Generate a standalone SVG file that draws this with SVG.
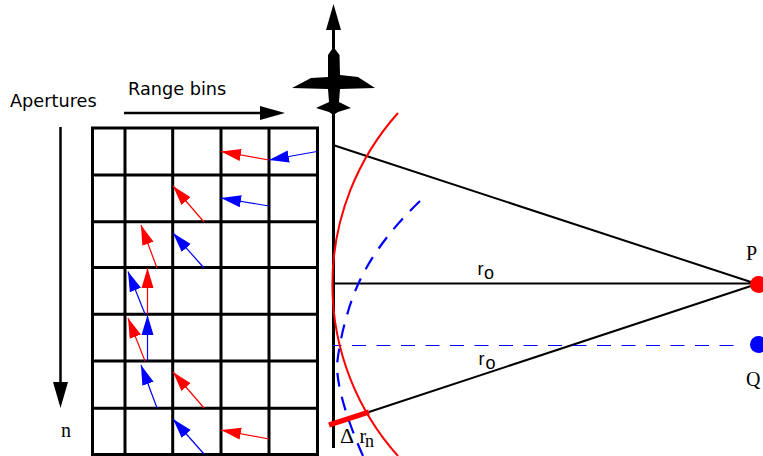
<svg xmlns="http://www.w3.org/2000/svg" width="763" height="456" viewBox="0 0 763 456">
<defs>
<marker id="rh" markerUnits="userSpaceOnUse" markerWidth="21" markerHeight="13" refX="20" refY="6.500" orient="auto"><path d="M0 0.500L20 6.500L0 12.500Z" fill="#f00"/></marker>
<marker id="bh" markerUnits="userSpaceOnUse" markerWidth="21" markerHeight="13" refX="20" refY="6.500" orient="auto"><path d="M0 0.500L20 6.500L0 12.500Z" fill="#00f"/></marker>
</defs>
<style>
.g{stroke:#000;stroke-width:3;fill:none}
.r{stroke:#f00;stroke-width:1.2;fill:none;marker-end:url(#rh)}
.b{stroke:#00f;stroke-width:1.2;fill:none;marker-end:url(#bh)}
.l{stroke:#000;stroke-width:2;fill:none}
.s{font-family:"DejaVu Sans",sans-serif;font-size:17.700px;fill:#000}
.t{font-family:"Liberation Serif",serif;font-size:20px;fill:#000}
.u{font-family:"Liberation Sans",sans-serif;font-size:18px;fill:#000}
</style>
<rect width="763" height="456" fill="#fff"/>
<g id="grid">
<path class="g" d="M92.500 128V454.500M125 128V454.500M172.700 128V454.500M221 128V454.500M269 128V454.500M317.500 128V454.500M91 128H319M91 175H319M91 221.700H319M91 267.500H319M91 314.300H319M91 361H319M91 408.300H319M91 454.500H319"/>
</g>
<g id="connectors">
<path class="r" d="M269 160L221 151.500"/>
<path class="b" d="M317 151.500L269 160"/>
<path class="r" d="M204 222L173 186"/>
<path class="b" d="M269 206L221 198"/>
<path class="r" d="M157 268L141 225"/>
<path class="b" d="M204 268L173 233"/>
<path class="r" d="M147.500 314L147.500 268"/>
<path class="b" d="M145 314L128 271.500"/>
<path class="r" d="M145 361L128 318"/>
<path class="b" d="M147.500 361L147.500 315"/>
<path class="b" d="M157 408L141 365"/>
<path class="r" d="M204 408L173 372"/>
<path class="b" d="M204 454L173 419"/>
<path class="r" d="M269 439L221 430"/>
<path d="M124 113H262" stroke="#000" stroke-width="2.500" fill="none"/>
<path d="M260 106L285 113L260 120Z" fill="#000"/>
<path d="M60.500 127V385" stroke="#000" stroke-width="2.500" fill="none"/>
<path d="M53 382L60.500 408L68 382Z" fill="#000"/>
<path d="M333.500 25V448" stroke="#000" stroke-width="3" fill="none"/>
<path class="l" d="M333 145L757 284M333 283.500H757M369 412L757 284"/>
<path d="M333 345.500H736" stroke="#00f" stroke-width="1" stroke-dasharray="14 10.500" stroke-dashoffset="5.500" fill="none"/>
<path d="M398 113A257 257 0 0 0 398 456" stroke="#f00" stroke-width="2" fill="none"/>
<path d="M420 201C395 225 375 250 361 278C350 300 340 335 337 365C337 385 345 415 363 456" stroke="#00f" stroke-width="2.200" stroke-dasharray="14 10.500" fill="none"/>
<path d="M329 425L369 412" stroke="#f00" stroke-width="5" fill="none"/>
</g>
<g id="aircraft">
<path d="M333.500 4L341 30H326Z" fill="#000"/>
<path d="M333.500 47L339.500 55L340 75L358 77L375 88L340 89L339 102L351 108L338 112L333.500 115L329 112L316 108L329 102L328 89L292 88L311 78L328 77V55Z" fill="#000"/>
</g>
<g id="P"><circle cx="758.500" cy="284.500" r="8.500" fill="#f00"/></g>
<g id="Q"><circle cx="758.500" cy="344.500" r="8.500" fill="#00f"/></g>
<g id="labels">
<text class="s" x="10" y="107">Apertures</text>
<text class="s" x="128" y="95">Range bins</text>
<text class="t" x="61" y="437">n</text>
<text class="t" x="746" y="260">P</text>
<text class="t" x="746" y="386">Q</text>
<text class="u" x="477.500" y="275">r</text>
<text class="u" x="484" y="279" font-size="17">o</text>
<text class="u" x="478.500" y="365">r</text>
<text class="u" x="485.500" y="369" font-size="17">o</text>
<text class="t" x="340" y="442.500" style="font-size:22px">Δ</text>
<text class="t" x="359.500" y="442.500">r</text>
<text class="t" x="365" y="447" style="font-size:18px">n</text>
</g>
</svg>
